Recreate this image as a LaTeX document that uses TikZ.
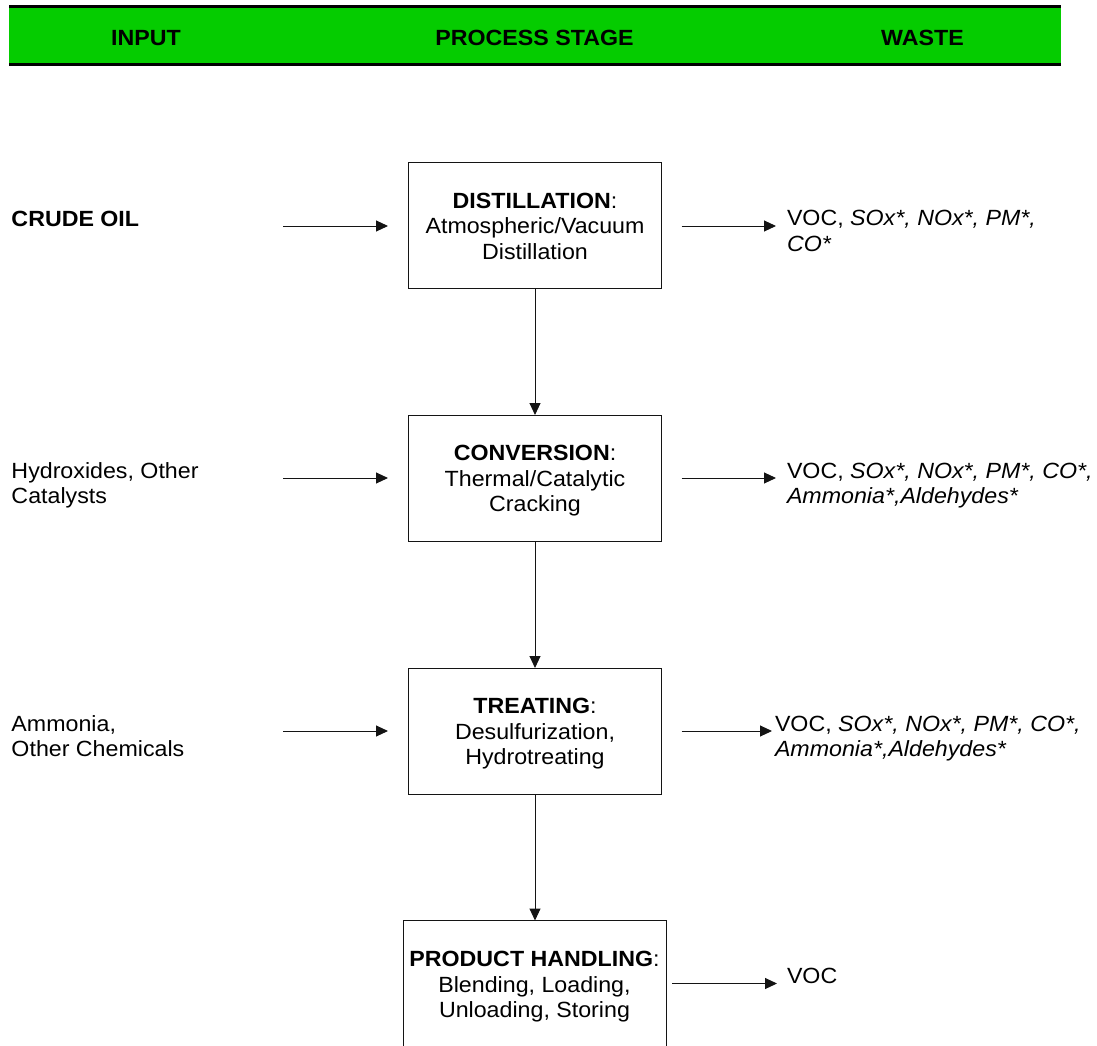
\documentclass[tikz,border=0pt]{standalone}
\usepackage{fontspec}
\setmainfont{Liberation Sans}[FakeStretch=1.055]
\usetikzlibrary{arrows.meta}
\definecolor{bandgreen}{RGB}{5,204,0}
\definecolor{inkgray}{RGB}{20,20,20}

\begin{document}
\begin{tikzpicture}[x=1pt,y=-1pt,
  every node/.style={inner sep=0pt, outer sep=0pt, font=\fontsize{22}{25.5}\selectfont},
  flow/.style={draw=inkgray, line width=1pt, -{Triangle[length=12pt,width=11pt]}},
  stagebox/.style={draw=inkgray, line width=1pt, minimum width=253pt, minimum height=126pt,
    align=center, text height=67pt, text depth=0pt, anchor=north west},
  sidetext/.style={align=left, anchor=south west, text depth=0pt},
  headtext/.style={font=\fontsize{22}{25.5}\selectfont\bfseries, anchor=base}]

\useasboundingbox (0,0) rectangle (1097,1046);

% heading band
\fill[bandgreen] (9,8) rectangle (1061,63.5);
\draw[line width=2.7pt] (9,6.7) -- (1061,6.7);
\draw[line width=3pt] (9,65) -- (1061,65);
\node[headtext] (hin)   at (146,46)   {INPUT};
\node[headtext] (hstep) at (534.5,46) {PROCESS STAGE};
\node[headtext] (hout)  at (922.5,46) {WASTE};

% process stages
\node[stagebox] (dist)  at (408.5,162.5) {\textbf{DISTILLATION}:\\Atmospheric/Vacuum\\Distillation};
\node[stagebox] (conv)  at (408.5,415)   {\textbf{CONVERSION}:\\Thermal/Catalytic\\Cracking};
\node[stagebox] (treat) at (408.5,668)   {\textbf{TREATING}:\\Desulfurization,\\Hydrotreating};
\node[stagebox, minimum width=263pt, minimum height=127pt] (prod) at (403,920.5)
  {\textbf{PRODUCT HANDLING}:\\Blending, Loading,\\Unloading, Storing};

\draw[flow] (dist.south) -- (conv.north);
\draw[flow] (conv.south) -- (treat.north);
\draw[flow] (treat.south) -- (treat.south |- prod.north);

% inputs
\node[sidetext] (crude) at (11.5,226)   {\textbf{CRUDE OIL}};
\node[sidetext] (cat)   at (11.5,503.5) {Hydroxides, Other\\Catalysts};
\node[sidetext] (chem)  at (11.5,756.5) {Ammonia,\\Other Chemicals};

\coordinate (i1) at (283,226);
\coordinate (i2) at (283,478);
\coordinate (i3) at (283,731);
\draw[flow, shorten >=20.5pt] (i1) -- (i1 -| dist.west);
\draw[flow, shorten >=20.5pt] (i2) -- (i2 -| conv.west);
\draw[flow, shorten >=20.5pt] (i3) -- (i3 -| treat.west);

% wastes
\node[sidetext] (w1) at (787,251)   {VOC, \textit{SOx*, NOx*, PM*,}\\\textit{CO*}};
\node[sidetext] (w2) at (787,503.5) {VOC, \textit{SOx*, NOx*, PM*, CO*,}\\\textit{Ammonia*,Aldehydes*}};
\node[sidetext] (w3) at (775,756.5) {VOC, \textit{SOx*, NOx*, PM*, CO*,}\\\textit{Ammonia*,Aldehydes*}};
\node[sidetext] (w4) at (787,983.5) {VOC};

\coordinate (o1) at (776,226);
\coordinate (o2) at (776,478);
\coordinate (o3) at (772,731);
\coordinate (o4) at (777,983.5);
\draw[flow, shorten <=20pt] (o1 -| dist.east) -- (o1);
\draw[flow, shorten <=20pt] (o2 -| conv.east) -- (o2);
\draw[flow, shorten <=20pt] (o3 -| treat.east) -- (o3);
\draw[flow, shorten <=6pt]  (o4 -| prod.east) -- (o4);

\end{tikzpicture}
\end{document}
